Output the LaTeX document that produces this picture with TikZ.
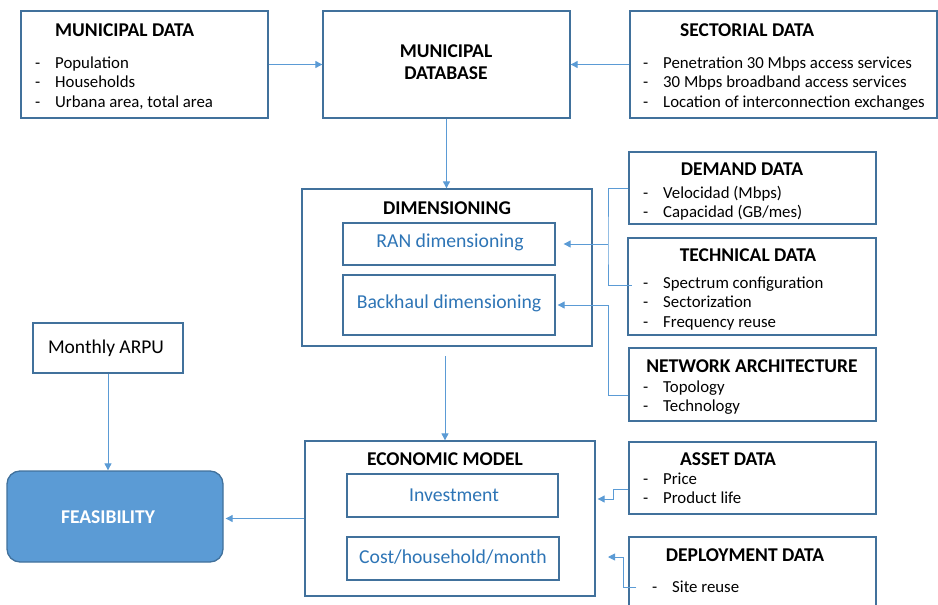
\documentclass[tikz,border=0pt]{standalone}
\usepackage{fontspec}
\setmainfont{Carlito}
\usetikzlibrary{arrows.meta}
\definecolor{bord}{HTML}{41719C}
\definecolor{arrc}{HTML}{5B9BD5}
\definecolor{innertxt}{HTML}{2E75B6}
\definecolor{feasfill}{HTML}{5B9BD5}
\tikzset{
  box/.style={draw=bord, line width=1.3pt, fill=white, inner sep=0pt},
  ttl/.style={font=\fontsize{19.5}{22}\selectfont\bfseries, inner sep=0pt},
  lst/.style={font=\fontsize{16.8}{19.5}\selectfont, inner sep=0pt, anchor=base west},
  inn/.style={font=\fontsize{19.7}{22}\selectfont, text=innertxt, inner sep=0pt},
  ln/.style={draw=arrc, line width=0.9pt},
  ar/.style={draw=arrc, line width=0.9pt, -{Triangle[length=7pt,width=7pt]}, arrc},
}
\newcommand\lstab[1]{\begin{tabular}[t]{@{}p{20pt}@{}l@{}}#1\end{tabular}}
\begin{document}
\begin{tikzpicture}[x=1pt,y=-1pt]
\useasboundingbox (0,0) rectangle (938,605);
% boxes
\node[box, minimum width=247, minimum height=107] (md) at (144.5,64.5) {};
\node[box, minimum width=247, minimum height=107] (mdb) at (446.5,64.5) {};
\node[box, minimum width=307, minimum height=107] (sd) at (783.5,64.5) {};
\node[box, minimum width=290, minimum height=157] (dim) at (447,267.5) {};
\node[box, minimum width=212, minimum height=42] (ran) at (449,244) {};
\node[box, minimum width=212, minimum height=60] (bh) at (449,305) {};
\node[box, minimum width=247, minimum height=72] (dd) at (752.5,188) {};
\node[box, minimum width=248, minimum height=97] (td) at (752,286.5) {};
\node[box, minimum width=247, minimum height=73] (na) at (752.5,384.5) {};
\node[box, minimum width=150, minimum height=50] (arpu) at (108,348) {};
\node[draw=bord, line width=1.3pt, fill=feasfill, rounded corners=13pt, minimum width=216, minimum height=91, inner sep=0pt] (feas) at (115,516.5) {};
\node[box, minimum width=290, minimum height=155] (em) at (450,518.5) {};
\node[box, minimum width=211, minimum height=43] (inv) at (452.5,495.5) {};
\node[box, minimum width=212, minimum height=43] (cost) at (453,558.5) {};
\node[box, minimum width=247, minimum height=72] (ad) at (752.5,478) {};
\node[box, minimum width=247, minimum height=73] (dep) at (752.5,573.5) {};
% titles
\node[ttl, anchor=west] (mdt) at (55,30) {MUNICIPAL DATA};
\node[ttl, align=center] (mdbt) at (446,62) {MUNICIPAL\\[0pt]DATABASE};
\node[ttl, anchor=west] (sdt) at (680,30) {SECTORIAL DATA};
\node[ttl] (ddt) at (742,169) {DEMAND DATA};
\node[ttl] (tdt) at (748,255) {TECHNICAL DATA};
\node[ttl] (nat) at (752,366) {NETWORK ARCHITECTURE};
\node[ttl] (dimt) at (447,208) {DIMENSIONING};
\node[ttl] (emt) at (445,459) {ECONOMIC MODEL};
\node[ttl] (adt) at (728,459) {ASSET DATA};
\node[ttl] (dept) at (745,555) {DEPLOYMENT DATA};
\node[ttl, text=white] (feast) at (108,517) {FEASIBILITY};
\node[font=\fontsize{19.5}{22}\selectfont, inner sep=0pt] (arput) at (106,348) {Monthly ARPU};
% inner texts
\node[inn] (rant) at (450,242) {RAN dimensioning};
\node[inn] (bht) at (449,303) {Backhaul dimensioning};
\node[inn] (invt) at (454,495) {Investment};
\node[inn] (costt) at (453,557) {Cost/household/month};
% lists
\node[lst] (mdl) at (35,68) {\lstab{-&Population\\-&Households\\-&Urbana area, total area}};
\node[lst] (sdl) at (643,68) {\lstab{-&Penetration 30 Mbps access services\\-&30 Mbps broadband access services\\-&Location of interconnection exchanges}};
\node[lst] (ddl) at (643,198) {\lstab{-&Velocidad (Mbps)\\-&Capacidad (GB/mes)}};
\node[lst] (tdl) at (643,288) {\lstab{-&Spectrum configuration\\-&Sectorization\\-&Frequency reuse}};
\node[lst] (nal) at (643,392) {\lstab{-&Topology\\-&Technology}};
\node[lst] (adl) at (643,484) {\lstab{-&Price\\-&Product life}};
\node[lst] (depl) at (652,592) {\lstab{-&Site reuse}};
% connectors
\draw[ar] (md.east) -- (mdb.west);
\draw[ar] (sd.west) -- (mdb.east);
\draw[ar] (mdb.south) -- (mdb.south |- dim.north);
\coordinate (j1) at (608,244);
\draw[ln] (dd.west) -| (j1) |- ([shift={(5,-1.5)}]td.west);
\draw[ar] (j1) -- ([xshift=8pt]ran.east);
\coordinate (j2) at (608,305);
\draw[ar] ([shift={(0,10.5)}]na.west) -| (j2) -- ([xshift=2pt]bh.east);
\coordinate (dimout) at (445,356);
\draw[ar] (dimout) -- (dimout |- em.north);
\draw[ar] (arpu.south) -- (arpu.south |- feas.north);
\draw[ar] (em.west) -- ([xshift=2pt]em.west -| feas.east);
\coordinate (k1) at (613,499);
\draw[ar] ([shift={(0,11)}]ad.west) -| (k1) -- ([xshift=2pt]k1 -| em.east);
\coordinate (k2) at (623,557);
\draw[ar] ([shift={(8,13.5)}]dep.west) -| (k2) -- ++(-15,0);
\end{tikzpicture}
\end{document}
